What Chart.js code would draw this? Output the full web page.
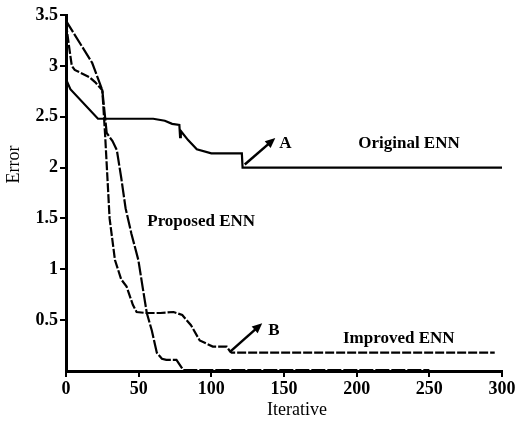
<!DOCTYPE html>
<html>
<head>
<meta charset="utf-8">
<script src="https://cdn.jsdelivr.net/npm/chart.js@4.4.1/dist/chart.umd.min.js"></script>
<style>
  html, body { margin: 0; padding: 0; background: #fff; }
  #wrap { width: 523px; height: 421px; }
</style>
</head>
<body>
<div id="wrap"><canvas id="errChart" width="523" height="421"></canvas></div>
<script>
// values (iterations vs error)
const originalX = [0, 3, 22, 60, 68, 73, 78, 78.5, 79, 84, 90, 100, 121, 121.5, 300];
const originalY = [2.87, 2.77, 2.48, 2.48, 2.46, 2.43, 2.42, 2.30, 2.36, 2.27, 2.18, 2.14, 2.14, 2.0, 2.0];

const improvedX = [0, 2, 4, 6, 16, 20, 25, 27, 28.5, 30, 33.7, 38, 41.7, 46, 48.6, 55, 65, 74, 80, 86, 92, 101, 110.6, 113, 114, 295];
const improvedY = [3.42, 3.2, 3.0, 2.96, 2.89, 2.84, 2.76, 2.3, 1.9, 1.5, 1.09, 0.9, 0.83, 0.65, 0.58, 0.57, 0.57, 0.58, 0.55, 0.45, 0.30, 0.24, 0.24, 0.19, 0.18, 0.18];

const proposedX = [0, 1, 18, 25, 28, 32, 35, 38, 41, 45, 49.8, 53, 55.6, 59, 62.5, 66, 69, 76, 80.6, 250];
const proposedY = [3.45, 3.42, 3.03, 2.76, 2.34, 2.26, 2.17, 1.9, 1.6, 1.35, 1.09, 0.8, 0.57, 0.4, 0.18, 0.12, 0.11, 0.11, 0.01, 0.01];

const xTicks = [0, 50, 100, 150, 200, 250, 300];
const yTicks = [0.5, 1, 1.5, 2, 2.5, 3, 3.5];

// labels and arrows, in data units
const labelText = ['Original ENN', 'A', 'Proposed ENN', 'Improved ENN', 'B'];
const labelAt = [[236, 2.24], [151, 2.24], [93, 1.465], [229, 0.32], [143, 0.40]];
const arrowFrom = [[123, 2.03], [113, 0.19]];
const arrowTo = [[144, 2.29], [135, 0.47]];

function pts(xs, ys) {
    return xs.map((x, i) => ({ x: x, y: ys[i] }));
}

const serif = '"Liberation Serif", "Times New Roman", serif';

const notes = {
    id: 'notes',
    afterDatasetsDraw(chart) {
        const ctx = chart.ctx;
        const sx = chart.scales.x, sy = chart.scales.y;
        const area = chart.chartArea;
        ctx.save();
        ctx.fillStyle = '#000';
        ctx.strokeStyle = '#000';

        ctx.font = 'bold 17px ' + serif;
        ctx.textAlign = 'center';
        ctx.textBaseline = 'middle';
        labelText.forEach((t, i) => {
            ctx.fillText(t, sx.getPixelForValue(labelAt[i][0]), sy.getPixelForValue(labelAt[i][1]));
        });

        ctx.lineWidth = 2.5;
        arrowFrom.forEach((a, i) => {
            const x1 = sx.getPixelForValue(a[0]), y1 = sy.getPixelForValue(a[1]);
            const x2 = sx.getPixelForValue(arrowTo[i][0]), y2 = sy.getPixelForValue(arrowTo[i][1]);
            const ang = Math.atan2(y2 - y1, x2 - x1);
            const hl = 11;
            ctx.beginPath();
            ctx.moveTo(x1, y1);
            ctx.lineTo(x2 - Math.cos(ang) * hl * 0.7, y2 - Math.sin(ang) * hl * 0.7);
            ctx.stroke();
            ctx.beginPath();
            ctx.moveTo(x2, y2);
            ctx.lineTo(x2 - hl * Math.cos(ang - 0.42), y2 - hl * Math.sin(ang - 0.42));
            ctx.lineTo(x2 - hl * Math.cos(ang + 0.42), y2 - hl * Math.sin(ang + 0.42));
            ctx.closePath();
            ctx.fill();
        });

        // axis titles
        ctx.font = '18px ' + serif;
        ctx.fillText('Iterative', area.left + (area.right - area.left) * 0.53, 410);
        ctx.translate(14, area.top + (area.bottom - area.top) * 0.42);
        ctx.rotate(-Math.PI / 2);
        ctx.fillText('Error', 0, 0);
        ctx.restore();
    }
};

const lineBase = {
    fill: false,
    pointRadius: 0,
    borderColor: '#000',
    borderWidth: 2.2,
    tension: 0
};

new Chart(document.getElementById('errChart').getContext('2d'), {
    type: 'line',
    data: {
        datasets: [
            Object.assign({}, lineBase, { label: 'Original ENN', data: pts(originalX, originalY) }),
            Object.assign({}, lineBase, { label: 'Improved ENN', data: pts(improvedX, improvedY), borderDash: [9, 2] }),
            Object.assign({}, lineBase, { label: 'Proposed ENN', data: pts(proposedX, proposedY), borderDash: [14, 2] })
        ]
    },
    options: {
        responsive: false,
        animation: false,
        layout: { padding: { top: 15, right: 21, left: 0, bottom: 0 } },
        plugins: { legend: { display: false }, tooltip: { enabled: false } },
        scales: {
            x: {
                type: 'linear',
                min: 0,
                max: 300,
                afterFit(scale) { scale.height = 50; },
                afterBuildTicks(scale) { scale.ticks = xTicks.map(v => ({ value: v })); },
                grid: { drawOnChartArea: false, drawTicks: true, tickLength: 6, color: '#000', lineWidth: 2 },
                border: { color: '#000', width: 3 },
                ticks: { color: '#000', padding: 2, maxRotation: 0, font: { family: serif, size: 18, weight: 'bold' } }
            },
            y: {
                min: 0,
                max: 3.5,
                afterFit(scale) { scale.width = 66; },
                afterBuildTicks(scale) { scale.ticks = yTicks.map(v => ({ value: v })); },
                grid: { drawOnChartArea: false, drawTicks: true, tickLength: 6, color: '#000', lineWidth: 2 },
                border: { color: '#000', width: 3 },
                ticks: {
                    color: '#000',
                    padding: 2,
                    font: { family: serif, size: 18, weight: 'bold' },
                    callback: v => String(v)
                }
            }
        }
    },
    plugins: [notes]
});
</script>
</body>
</html>
